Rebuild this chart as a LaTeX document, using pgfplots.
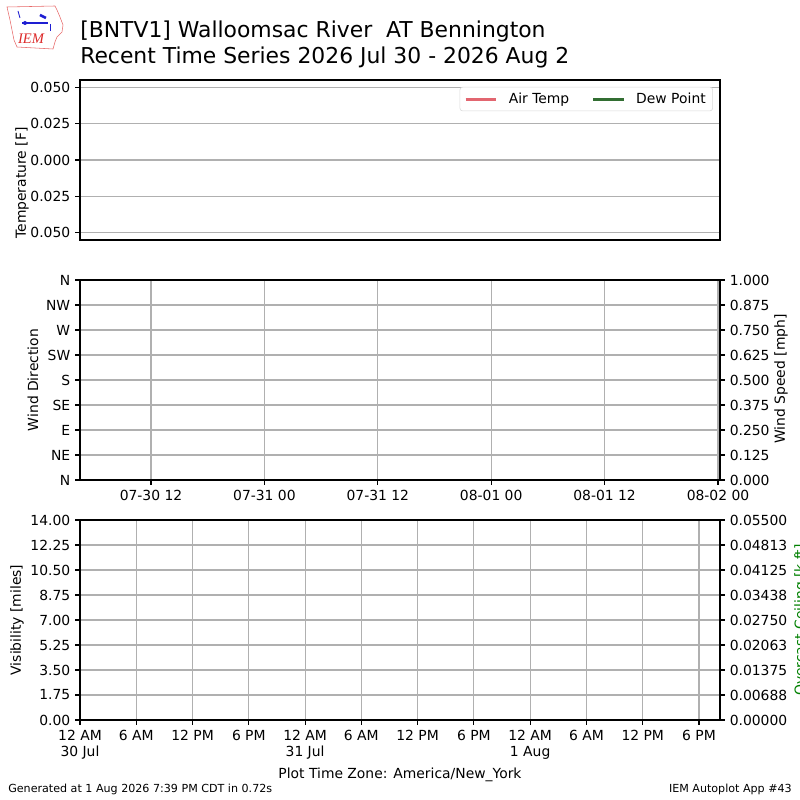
\documentclass[border=0pt]{standalone}
\usepackage{fontspec}
\setmainfont{DejaVu Sans}
\newfontfamily\serifit{Liberation Serif}
\usepackage{pgfplots}
\pgfplotsset{compat=1.18}

\definecolor{gridc}{HTML}{B0B0B0}
\definecolor{airtemp}{RGB}{226,102,112}
\definecolor{dewpt}{RGB}{50,110,50}
\definecolor{ceil}{RGB}{0,128,0}
\definecolor{iemblue}{RGB}{30,30,210}
\definecolor{iemred}{RGB}{220,40,40}

\pgfplotsset{
 iem/.style={scale only axis, width=460.8pt, anchor=south west,
   axis line style={line width=0.8pt, black},
   every tick/.style={line width=0.8pt, black},
   major tick length=3.5pt, tick align=outside,
   grid style={line width=0.8pt, gridc},
   tick label style={font=\fontsize{10}{12}\selectfont},
   scaled ticks=false,
   /pgf/number format/assume math mode=true}
}

\begin{document}
\begin{tikzpicture}
\path[use as bounding box] (0,0) rectangle (576pt,576pt);

% ---------- top panel: temperature ----------
\begin{axis}[iem, at={(57.6pt,403.2pt)}, height=115.2pt,
  xmin=4.487, xmax=72.21, xtick=\empty,
  ymin=-0.055, ymax=0.055,
  ytick={-0.05,-0.025,0,0.025,0.05},
  yticklabels={0.050,0.025,0.000,0.025,0.050},
  ytick pos=left, ymajorgrids,
  legend columns=2,
  legend style={at={(0.989,0.957)}, anchor=north east, draw=black!15,
    rounded corners=2pt, font=\fontsize{10}{12}\selectfont,
    inner xsep=3pt, inner ysep=2pt,
    /tikz/every odd column/.append style={column sep=6pt},
    /tikz/every even column/.append style={column sep=14pt}},
  legend image code/.code={\draw[line width=2.2pt,#1] (0pt,0pt) -- (22pt,0pt);}]
\addlegendimage{airtemp, line width=2.2pt}
\addlegendentry{Air Temp}
\addlegendimage{dewpt, line width=2.2pt}
\addlegendentry{Dew Point}
\end{axis}

% ---------- middle panel: wind ----------
\begin{axis}[iem, at={(57.6pt,230.4pt)}, height=144pt,
  xmin=4.487, xmax=72.21, ymin=0, ymax=360,
  xtick={12,24,36,48,60,72},
  xticklabels={07-30 12,07-31 00,07-31 12,08-01 00,08-01 12,08-02 00},
  ytick={0,45,90,135,180,225,270,315,360},
  yticklabels={N,NE,E,SE,S,SW,W,NW,N},
  xtick pos=bottom, ytick pos=left, grid=major]
\end{axis}
\begin{axis}[iem, at={(57.6pt,230.4pt)}, height=144pt,
  xmin=4.487, xmax=72.21, ymin=0, ymax=1,
  axis y line*=right, axis x line=none,
  ytick={0,0.125,0.25,0.375,0.5,0.625,0.75,0.875,1},
  yticklabels={0.000,0.125,0.250,0.375,0.500,0.625,0.750,0.875,1.000}]
\end{axis}

% ---------- bottom panel: visibility / ceiling ----------
\begin{axis}[iem, at={(57.6pt,57.6pt)}, height=144pt,
  xmin=0, xmax=68.24, ymin=0, ymax=14,
  xtick={0,6,12,18,24,30,36,42,48,54,60,66},
  xticklabels={12 AM\\30 Jul,6 AM,12 PM,6 PM,12 AM\\31 Jul,6 AM,12 PM,6 PM,12 AM\\1 Aug,6 AM,12 PM,6 PM},
  xticklabel style={align=center, anchor=north},
  ytick={0,1.75,3.5,5.25,7,8.75,10.5,12.25,14},
  yticklabels={0.00,1.75,3.50,5.25,7.00,8.75,10.50,12.25,14.00},
  xtick pos=bottom, ytick pos=left, grid=major]
\end{axis}
\begin{axis}[iem, at={(57.6pt,57.6pt)}, height=144pt,
  xmin=0, xmax=68.24, ymin=0, ymax=0.055,
  axis y line*=right, axis x line=none,
  ytick={0,0.006875,0.01375,0.020625,0.0275,0.034375,0.04125,0.048125,0.055},
  yticklabels={0.00000,0.00688,0.01375,0.02063,0.02750,0.03438,0.04125,0.04813,0.05500}]
\end{axis}

% ---------- texts in pixel coordinates ----------
\begin{scope}[x=0.72pt, y=-0.72pt, shift={(0pt,576pt)}]
  \node[anchor=base west, inner sep=0pt, font=\fontsize{15.75}{19}\selectfont] at (80,37.3) {[BNTV1] Walloomsac River\ \ AT Bennington};
  \node[anchor=base west, inner sep=0pt, font=\fontsize{15.75}{19}\selectfont] at (80,64) {Recent Time Series 2026 Jul 30 - 2026 Aug 2};

  \node[rotate=90, inner sep=0pt, font=\fontsize{10}{12}\selectfont] at (22,183) {Temperature [F]};
  \node[rotate=90, inner sep=0pt, font=\fontsize{10}{12}\selectfont] at (33,380) {Wind Direction};
  \node[rotate=90, inner sep=0pt, font=\fontsize{10}{12}\selectfont] at (781,379) {Wind Speed [mph]};
  \node[rotate=90, inner sep=0pt, font=\fontsize{10}{12}\selectfont] at (17,620) {Visibility [miles]};
  \node[rotate=90, inner sep=0pt, font=\fontsize{10}{12}\selectfont, text=ceil] at (801,620) {Overcast Ceiling [k ft]};

  \node[inner sep=0pt, font=\fontsize{10}{12}\selectfont] at (400,775) {Plot Time Zone: America/New\_York};
  \node[anchor=west, inner sep=0pt, font=\fontsize{8}{10}\selectfont] at (8,789) {Generated at 1 Aug 2026 7:39 PM CDT in 0.72s};
  \node[anchor=east, inner sep=0pt, font=\fontsize{8}{10}\selectfont] at (792,789) {IEM Autoplot App \#43};

  % logo
  \draw[iemred!70, line width=0.4pt] (7,7) -- (55,6) -- (57,10) -- (60,17) -- (63,25) -- (62,32) -- (57,37) -- (55,42) -- (53,49) -- (17,47) -- (14,40) -- (12,30) -- (10,20) -- cycle;
  \draw[iemblue, line width=1.2pt] (22,23) -- (48,23);
  \fill[iemblue] (25,23) circle (2);
  \draw[iemblue, line width=0.6pt] (18,11) -- (20,18);
  \draw[iemblue, line width=1.8pt] (40,15) -- (46,18);
  \draw[iemblue, line width=0.6pt] (50,24) -- (50,31);
  \node[inner sep=0pt, font=\serifit\itshape\fontsize{10.5}{12}\selectfont, text=iemred] at (31,38.5) {IEM};
\end{scope}
\end{tikzpicture}
\end{document}
